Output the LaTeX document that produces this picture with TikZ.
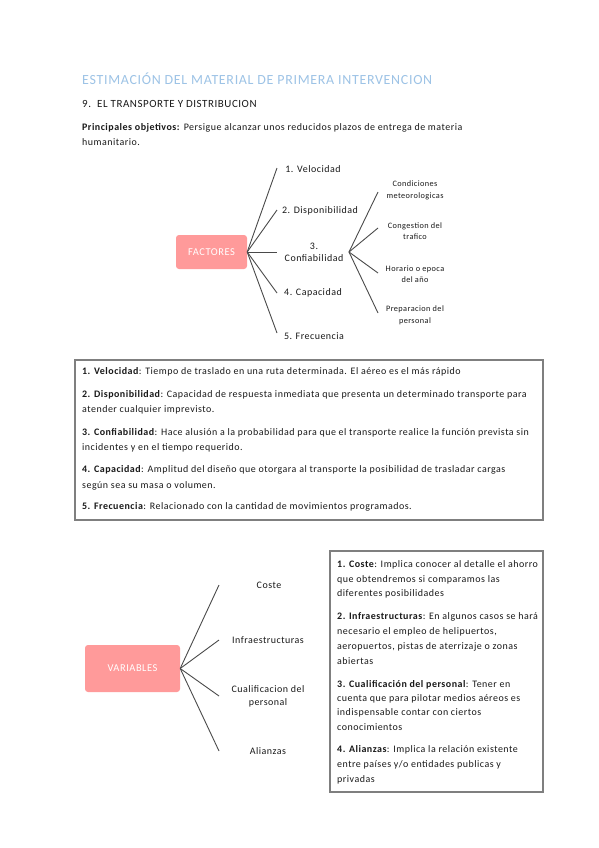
\documentclass[tikz,border=0pt]{standalone}
\usepackage{fontspec}
\setmainfont{Carlito}[LetterSpace=5]
\definecolor{titleblue}{HTML}{9DC3E6}
\definecolor{pinkc}{HTML}{FF9A9A}
\definecolor{linec}{HTML}{4A4A4A}
\definecolor{framec}{HTML}{7F7F7F}
\definecolor{txtc}{HTML}{1A1A1A}
\begin{document}
\begin{tikzpicture}[x=1bp,y=-1bp,
  pinkbox/.style={rounded corners=3bp, fill=pinkc, text=white, inner sep=0,
    font=\fontsize{10.5}{12}\selectfont},
  branch/.style={draw=linec, line width=0.9bp},
  lbl/.style={inner sep=0, align=center, text=txtc, font=\fontsize{10}{12}\selectfont},
  sml/.style={inner sep=0, align=center, text=txtc, font=\fontsize{8.3}{11.5}\selectfont},
  txt/.style={inner sep=0, anchor=west, text=txtc, font=\fontsize{10}{11}\selectfont},
  frame/.style={draw=framec, line width=1.2bp}]
\useasboundingbox (0,0) rectangle (599,848);
\fill[white] (0,0) rectangle (599,848);

% header
\node[inner sep=0, anchor=west, text=titleblue, font=\fontsize{14}{16}\selectfont] (title) at (82,79) {ESTIMACIÓN DEL MATERIAL DE PRIMERA INTERVENCION};
\node[inner sep=0, anchor=west, text=txtc, font=\fontsize{11}{12}\selectfont] (head) at (82,104) {9.\ \ EL TRANSPORTE Y DISTRIBUCION};
\node[txt] (obj1) at (82,128) {\textbf{Principales objetivos:} Persigue alcanzar unos reducidos plazos de entrega de materia};
\node[txt] (obj2) at (82,142) {humanitario.};

% FACTORES
\node[pinkbox, minimum width=71bp, minimum height=34bp] (fac) at (211.5,252) {FACTORES};
\coordinate (e1) at (277,168);
\coordinate (e2) at (277,210);
\coordinate (e3) at (277,252);
\coordinate (e4) at (277,293);
\coordinate (e5) at (277,333);
\foreach \i in {1,...,5} { \draw[branch] (fac.east) -- (e\i); }
\node[lbl] (v1) at (313,169) {1. Velocidad};
\node[lbl] (v2) at (320,211) {2. Disponibilidad};
\node[lbl] (v3) at (314,252) {3.\\Confiabilidad};
\node[lbl] (v4) at (313,293) {4. Capacidad};
\node[lbl] (v5) at (314,336) {5. Frecuencia};

\coordinate (c0) at (349,252);
\coordinate (s1) at (378,192);
\coordinate (s2) at (378,228);
\coordinate (s3) at (378,273);
\coordinate (s4) at (378,313);
\foreach \i in {1,...,4} { \draw[branch] (c0) -- (s\i); }
\node[sml] (m1) at (415,190.5) {Condiciones\\meteorologicas};
\node[sml] (m2) at (415,231) {Congestion del\\trafico};
\node[sml] (m3) at (415,274) {Horario o epoca\\del año};
\node[sml] (m4) at (415,315.5) {Preparacion del\\personal};

% box 1
\draw[frame] (75,360) rectangle (543,520);
\node[txt] (b1a) at (82,372) {\textbf{1. Velocidad}: Tiempo de traslado en una ruta determinada. El aéreo es el más rápido};
\node[txt] (b2a) at (82,395) {\textbf{2. Disponibilidad}: Capacidad de respuesta inmediata que presenta un determinado transporte para};
\node[txt] (b2b) at (82,410) {atender cualquier imprevisto.};
\node[txt] (b3a) at (82,433) {\textbf{3. Confiabilidad}: Hace alusión a la probabilidad para que el transporte realice la función prevista sin};
\node[txt] (b3b) at (82,448) {incidentes y en el tiempo requerido.};
\node[txt] (b4a) at (82,470) {\textbf{4. Capacidad}: Amplitud del diseño que otorgara al transporte la posibilidad de trasladar cargas};
\node[txt] (b4b) at (82,486) {según sea su masa o volumen.};
\node[txt] (b5a) at (82,507) {\textbf{5. Frecuencia}: Relacionado con la cantidad de movimientos programados.};

% VARIABLES
\node[pinkbox, minimum width=95bp, minimum height=47bp] (var) at (132.5,668.5) {VARIABLES};
\coordinate (w1) at (219,585);
\coordinate (w2) at (219,640);
\coordinate (w3) at (219,696);
\coordinate (w4) at (219,751);
\foreach \i in {1,...,4} { \draw[branch] (var.east) -- (w\i); }
\node[lbl] (x1) at (269,585) {Coste};
\node[lbl] (x2) at (268,640) {Infraestructuras};
\node[lbl, font=\fontsize{10}{13}\selectfont] (x3) at (268,696.5) {Cualificacion del\\personal};
\node[lbl] (x4) at (268,751) {Alianzas};

% box 2
\draw[frame] (330,551) rectangle (543,792);
\node[txt] (d1a) at (337,565) {\textbf{1. Coste}: Implica conocer al detalle el ahorro};
\node[txt] (d1b) at (337,580) {que obtendremos si comparamos las};
\node[txt] (d1c) at (337,594) {diferentes posibilidades};
\node[txt] (d2a) at (337,617) {\textbf{2. Infraestructuras}: En algunos casos se hará};
\node[txt] (d2b) at (337,632) {necesario el empleo de helipuertos,};
\node[txt] (d2c) at (337,647) {aeropuertos, pistas de aterrizaje o zonas};
\node[txt] (d2d) at (337,661) {abiertas};
\node[txt] (d3a) at (337,685) {\textbf{3. Cualificación del personal}: Tener en};
\node[txt] (d3b) at (337,699) {cuenta que para pilotar medios aéreos es};
\node[txt] (d3c) at (337,713) {indispensable contar con ciertos};
\node[txt] (d3d) at (337,727) {conocimientos};
\node[txt] (d4a) at (337,750) {\textbf{4. Alianzas}: Implica la relación existente};
\node[txt] (d4b) at (337,765) {entre países y/o entidades publicas y};
\node[txt] (d4c) at (337,780) {privadas};
\end{tikzpicture}
\end{document}
